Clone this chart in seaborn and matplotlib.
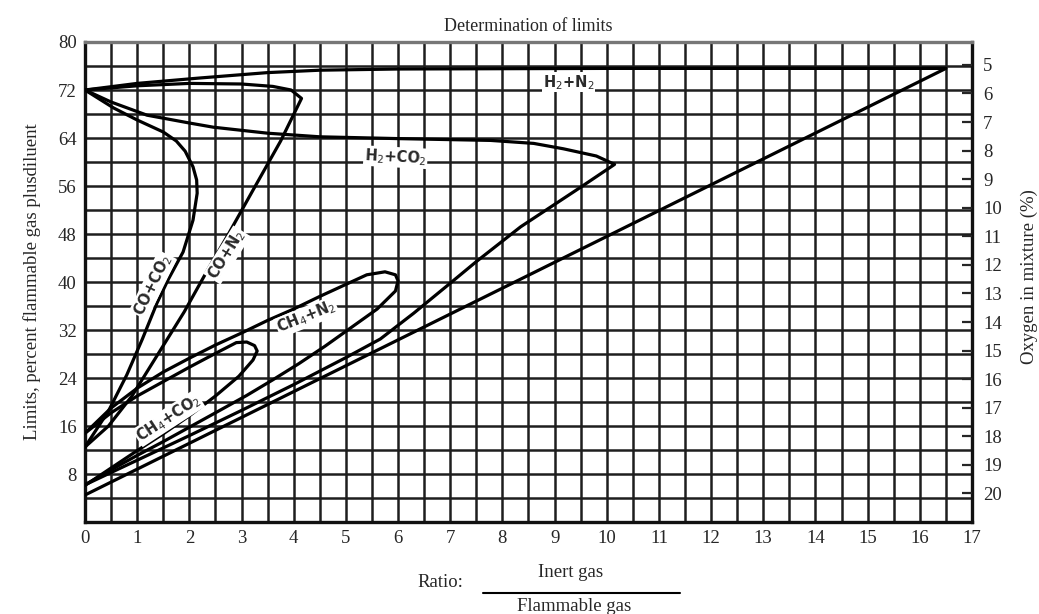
import numpy as np
import pandas as pd
import matplotlib
matplotlib.use("Agg")
import matplotlib.pyplot as plt
import seaborn as sns
from matplotlib.lines import Line2D

# curves: ratio inert/flammable vs limit (%)
h2_n2_x = [0, 1, 2.2, 3.5, 4.5, 6, 10, 16.5, 0]
h2_n2_y = [72, 73.1, 74, 74.9, 75.3, 75.5, 75.6, 75.6, 4.5]

h2_co2_x = [0, 0.5, 1.19, 2, 2.46, 3.5, 4.5, 6, 7.77, 8.6, 9.17, 9.8, 10.15,
            9.5, 8.35, 7.5, 7, 6.3, 5.66, 5, 4, 3, 2, 1, 0]
h2_co2_y = [72, 70, 67.8, 66.5, 65.8, 64.8, 64.2, 63.9, 63.6, 63.1, 62.2, 61, 59.6,
            55.8, 49.2, 43.4, 39.8, 34.8, 30.5, 27.4, 22.9, 18.6, 14.4, 10.3, 6.2]

co_n2_x = [0, 1, 2, 3, 3.6, 3.95, 4.15, 3.75, 3.2, 2.75, 2.35, 1.9, 1.4, 0.9, 0.45, 0]
co_n2_y = [72, 72.7, 73.1, 73.0, 72.6, 72.0, 70.6, 63.5, 55, 48, 42, 35, 28, 21, 16, 12.5]

co_co2_x = [0, 0.55, 1.0, 1.5, 1.75, 1.92, 2.07, 2.14, 2.15, 2.07, 1.88, 1.6, 1.38, 1.1, 0.8, 0.45, 0]
co_co2_y = [72, 69, 67, 65, 63.5, 61.8, 59.2, 57, 54.8, 50.3, 45, 40.5, 36.5, 30.5, 24.5, 18.5, 12.5]

ch4_n2_x = [0, 0.5, 1, 1.5, 2, 2.5, 3, 3.5, 4, 4.5, 5, 5.4, 5.75, 5.95, 6.0, 5.95,
            5.6, 5.1, 4.6, 4.1, 3.6, 3.1, 2.5, 2, 1.5, 1, 0.5, 0]
ch4_n2_y = [14.8, 19, 22.3, 25, 27.3, 29.5, 31.5, 33.6, 35.5, 37.6, 39.6, 41.2, 41.7, 41.2, 40.2, 38.5,
            35.5, 32.4, 29.3, 26.4, 23.7, 21.1, 18.2, 15.8, 13.4, 11.1, 8.7, 6.2]

ch4_co2_x = [0, 0.5, 1, 1.5, 2, 2.5, 2.9, 3.1, 3.25, 3.3, 3.22, 2.95, 2.5, 2, 1.5, 1, 0.5, 0]
ch4_co2_y = [14.8, 18.2, 21, 23.4, 25.8, 28.1, 29.9, 30.0, 29.4, 28.5, 27, 24.3, 21, 17.7, 14.7, 11.9, 9, 6.1]

curves = {
    "H2+N2": (h2_n2_x, h2_n2_y),
    "H2+CO2": (h2_co2_x, h2_co2_y),
    "CO+N2": (co_n2_x, co_n2_y),
    "CO+CO2": (co_co2_x, co_co2_y),
    "CH4+N2": (ch4_n2_x, ch4_n2_y),
    "CH4+CO2": (ch4_co2_x, ch4_co2_y),
}

# label text, position (ratio, limit), rotation
curve_labels = [
    ("H$_2$+N$_2$", 9.27, 73.3, 0),
    ("H$_2$+CO$_2$", 5.95, 60.8, -3),
    ("CO+CO$_2$", 1.3, 39.5, 64),
    ("CO+N$_2$", 2.72, 44.5, 58),
    ("CH$_4$+N$_2$", 4.25, 34.2, 22),
    ("CH$_4$+CO$_2$", 1.6, 17.3, 33),
]

oxygen_ticks = list(range(5, 21))
y_ticks = [8, 16, 24, 32, 40, 48, 56, 64, 72, 80]
x_ticks = list(range(0, 18))

sns.set_style("white")
plt.rcParams["font.family"] = ["Liberation Serif", "DejaVu Serif"]
plt.rcParams["mathtext.fontset"] = "dejavusans"

fig = plt.figure(figsize=(10.39, 6.14), dpi=100)
ax = fig.add_axes([0.0818, 0.1498, 0.8537, 0.7818])

for name, (xs, ys) in curves.items():
    df = pd.DataFrame({"ratio": xs, "limit": ys})
    sns.lineplot(data=df, x="ratio", y="limit", sort=False, estimator=None,
                 color="black", lw=2.3, ax=ax, zorder=4)

ax.set_xlim(0, 17)
ax.set_ylim(0, 80)
ax.set_xticks(x_ticks)
ax.set_yticks(y_ticks)
ax.set_xticks(np.arange(0, 17.01, 0.5), minor=True)
ax.set_yticks(np.arange(0, 80.01, 4), minor=True)
ax.xaxis.remove_overlapping_locs = False
ax.yaxis.remove_overlapping_locs = False
ax.grid(which="minor", color="#1e1e1e", lw=1.8)
ax.grid(which="major", visible=False)
ax.set_axisbelow(True)
ax.tick_params(which="both", length=0)
ax.tick_params(axis="x", pad=6, labelsize=13.5)
ax.tick_params(axis="y", pad=6, labelsize=13.5)
for s in ax.spines.values():
    s.set_color("#111111")
    s.set_linewidth(2.4)
ax.spines["top"].set_color("#777777")
ax.set_xlabel("")
ax.set_ylabel("Limits, percent flammable gas plusdiluent", fontsize=13.5, labelpad=12)

for txt, lx, ly, rot in curve_labels:
    ax.text(lx, ly, txt, rotation=rot, rotation_mode="anchor",
            ha="center", va="center", fontsize=10.5, fontweight="bold",
            family=["DejaVu Sans"], color="#2a2a2a", zorder=5,
            bbox=dict(facecolor="white", edgecolor="none", pad=0.6))

# right axis: oxygen in mixture, O2 = 21 * (1 - limit/100)
ax2 = ax.twinx()
ax2.set_ylim(21 * (1 - 0 / 100), 21 * (1 - 80 / 100))
ax2.set_yticks(oxygen_ticks)
ax2.tick_params(axis="y", direction="in", length=7, width=1.6, pad=8, labelsize=13.5)
ax2.grid(False)
for s in ax2.spines.values():
    s.set_visible(False)

ax.set_title("Determination of limits", fontsize=13, pad=8)
fig.text(0.991, 0.55, "Oxygen in mixture (%)", rotation=90, ha="center", va="center", fontsize=13.5)

# x label written as a fraction
fig.text(0.4235, 0.052, "Ratio:", ha="center", va="center", fontsize=13.5)
fig.text(0.549, 0.068, "Inert gas", ha="center", va="center", fontsize=13.5)
fig.add_artist(Line2D([0.465, 0.654], [0.035, 0.035], color="black", lw=1.5))
fig.text(0.553, 0.012, "Flammable gas", ha="center", va="center", fontsize=13.5)

fig.savefig("out.png", dpi=100)
